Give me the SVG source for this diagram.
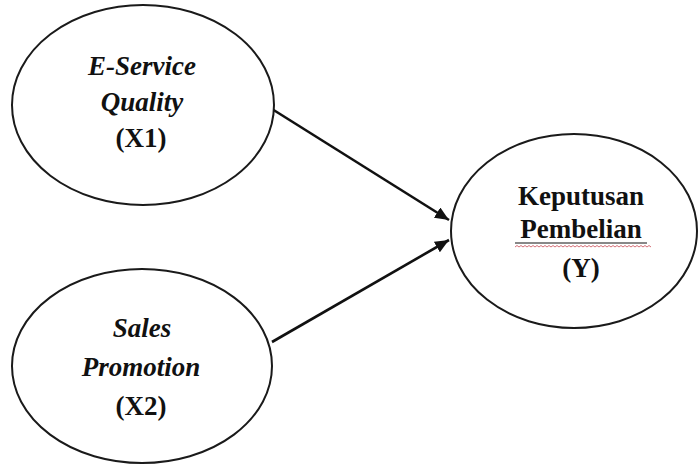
<svg xmlns="http://www.w3.org/2000/svg" width="700" height="465" viewBox="0 0 700 465">
  <style>
    .node { fill: #ffffff; stroke: #1a1a1a; stroke-width: 2; }
    .lbl { font-family: "Liberation Serif", "Times New Roman", serif; font-size: 27px; font-weight: bold; fill: #111; text-anchor: middle; }
    .it { font-style: italic; }
    .edge { stroke: #111; stroke-width: 2.6; fill: none; marker-end: url(#arrow); }
  </style>
  <defs>
    <marker id="arrow" markerUnits="userSpaceOnUse" markerWidth="16" markerHeight="14" refX="14" refY="6" orient="auto">
      <path d="M0,0 L14,6 L0,12 Z" fill="#111"/>
    </marker>
  </defs>
  <rect width="700" height="465" fill="#ffffff"/>

  <g id="connectors">
    <line class="edge" x1="272" y1="109" x2="449" y2="220"/>
    <line class="edge" x1="272" y1="342" x2="449" y2="240"/>
  </g>

  <g id="node-x1">
    <ellipse class="node" cx="143" cy="105" rx="131" ry="100"/>
    <text class="lbl it" x="142" y="75">E-Service</text>
    <text class="lbl it" x="142" y="111">Quality</text>
    <text class="lbl" x="141" y="147">(X1)</text>
  </g>

  <g id="node-x2">
    <ellipse class="node" cx="142" cy="366" rx="130" ry="97"/>
    <text class="lbl it" x="142" y="337">Sales</text>
    <text class="lbl it" x="141" y="376">Promotion</text>
    <text class="lbl" x="141" y="415">(X2)</text>
  </g>

  <g id="node-y">
    <ellipse class="node" cx="574" cy="231" rx="123" ry="97"/>
    <text class="lbl" x="581" y="205">Keputusan</text>
    <text class="lbl" x="581" y="238">Pembelian</text>
    <line x1="515" y1="243" x2="647" y2="243" stroke="#111" stroke-width="1"/>
    <path d="M515,247 l2,-1.5 l2,1.5 l2,-1.5 l2,1.5 l2,-1.5 l2,1.5 l2,-1.5 l2,1.5 l2,-1.5 l2,1.5 l2,-1.5 l2,1.5 l2,-1.5 l2,1.5 l2,-1.5 l2,1.5 l2,-1.5 l2,1.5 l2,-1.5 l2,1.5 l2,-1.5 l2,1.5 l2,-1.5 l2,1.5 l2,-1.5 l2,1.5 l2,-1.5 l2,1.5 l2,-1.5 l2,1.5 l2,-1.5 l2,1.5 l2,-1.5 l2,1.5 l2,-1.5 l2,1.5 l2,-1.5 l2,1.5 l2,-1.5 l2,1.5 l2,-1.5 l2,1.5 l2,-1.5 l2,1.5 l2,-1.5 l2,1.5 l2,-1.5 l2,1.5 l2,-1.5 l2,1.5 l2,-1.5 l2,1.5 l2,-1.5 l2,1.5 l2,-1.5 l2,1.5 l2,-1.5 l2,1.5 l2,-1.5 l2,1.5 l2,-1.5 l2,1.5 l2,-1.5 l2,1.5 l2,-1.5 l2,1.5 l2,-1.5 l2,1.5" fill="none" stroke="#d0606a" stroke-width="0.9"/>
    <text class="lbl" x="581" y="277">(Y)</text>
  </g>
</svg>
